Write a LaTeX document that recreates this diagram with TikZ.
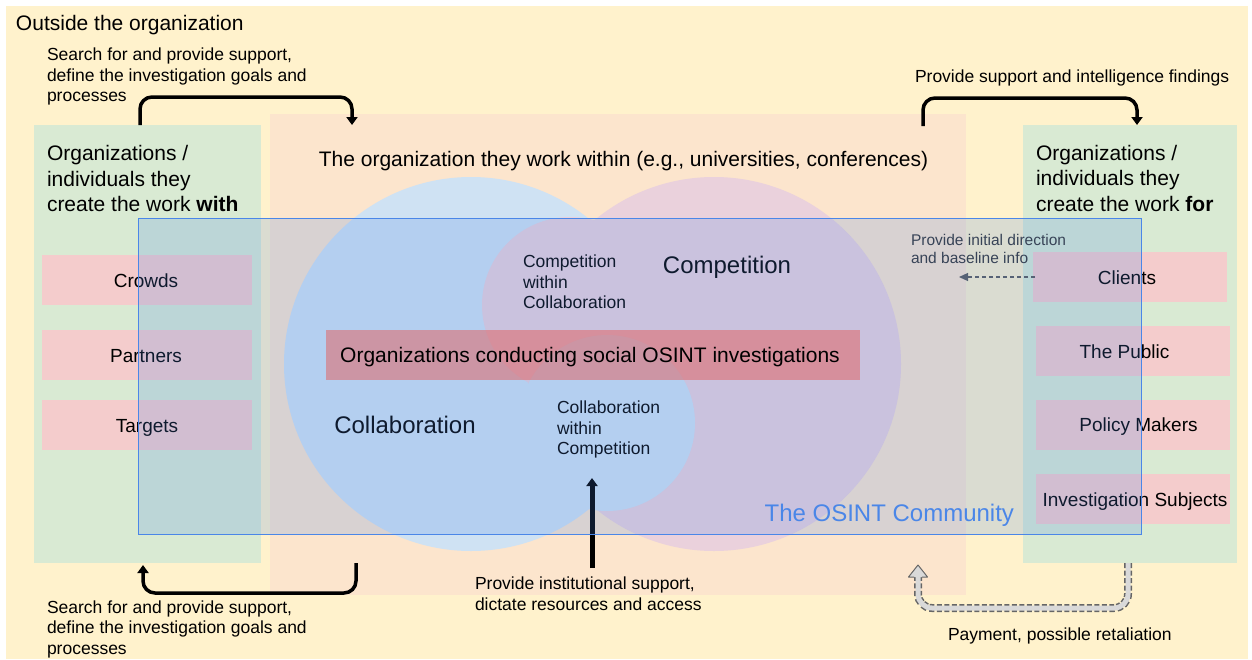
\documentclass[tikz,border=0pt]{standalone}
\usepackage{fontspec}
\setmainfont{Liberation Sans}
\usetikzlibrary{arrows.meta,calc}

\definecolor{bgyellow}{HTML}{FFF2CC}
\definecolor{boxgreen}{HTML}{D9EAD3}
\definecolor{boxpink}{HTML}{F4CCCC}
\definecolor{boxorange}{HTML}{FCE5CD}
\definecolor{circblue}{HTML}{CFE2F3}
\definecolor{circpink}{HTML}{EAD1DC}
\definecolor{barred}{HTML}{E06666}
\definecolor{osint}{HTML}{4A86E8}
\definecolor{dashgrey}{HTML}{595959}
\definecolor{hollowfill}{HTML}{D9D9D9}
\definecolor{hollowline}{HTML}{666666}
\definecolor{softtext}{HTML}{333333}

\begin{document}
\begin{tikzpicture}[x=1pt,y=-1pt,
  panel/.style={rectangle, inner sep=0pt, outer sep=0pt, anchor=north west},
  disc/.style={circle, inner sep=0pt, outer sep=0pt},
  txt/.style={inner sep=0pt, outer sep=0pt},
  ftitle/.style={txt, font=\fontsize{21}{25.5}\selectfont},
  fbig/.style={txt, font=\fontsize{24}{28}\selectfont},
  fitem/.style={txt, font=\fontsize{19}{22}\selectfont},
  fnote/.style={txt, font=\fontsize{17.5}{20.5}\selectfont},
  fsmall/.style={txt, font=\fontsize{15.5}{18.5}\selectfont},
  blackarrow/.style={draw=black, line width=3.5pt, rounded corners=12pt,
    -{Triangle[width=11pt,length=8pt]}},
  instarrow/.style={draw=black, line width=5pt,
    -{Triangle[width=11pt,length=8pt]}},
  hintarrow/.style={draw=dashgrey, line width=1.3pt, dash pattern=on 4pt off 3pt,
    -{Triangle[width=8pt,length=9pt]}},
]
% page and outer area
\fill[white] (0,0) rectangle (1252,659);
\path[use as bounding box] (0,0) rectangle (1252,659);
\fill[bgyellow] (6,6) rectangle (1248,659);

% main panels
\node[panel, fill=boxgreen, minimum width=227pt, minimum height=438pt] (withbox) at (34,125) {};
\node[panel, fill=boxgreen, minimum width=214pt, minimum height=438pt] (forbox) at (1023,125) {};
\node[panel, fill=boxorange, minimum width=696pt, minimum height=481pt] (orgbox) at (270,114) {};

% entities on the left
\node[panel, fill=boxpink, minimum width=210pt, minimum height=50pt] (crowdsbox) at (42,255) {};
\node[panel, fill=boxpink, minimum width=210pt, minimum height=50pt] (partnersbox) at (42,330) {};
\node[panel, fill=boxpink, minimum width=210pt, minimum height=50pt] (targetsbox) at (42,400) {};
% entities on the right
\node[panel, fill=boxpink, minimum width=194pt, minimum height=50pt] (clientsbox) at (1033,252) {};
\node[panel, fill=boxpink, minimum width=194pt, minimum height=50pt] (publicbox) at (1036,326) {};
\node[panel, fill=boxpink, minimum width=194pt, minimum height=50pt] (policybox) at (1036,400) {};
\node[panel, fill=boxpink, minimum width=194pt, minimum height=50pt] (subjectsbox) at (1036,474) {};

% collaboration / competition circles
\node[disc, fill=circblue, minimum size=374pt] (collab) at (471,364) {};
\node[disc, fill=circpink, minimum size=374pt] (compet) at (714,364) {};
\node[disc, fill=circpink, minimum size=176pt] (compwithin) at (570,305) {};
\node[disc, fill=circblue, minimum size=176pt] (collabwithin) at (607,423) {};

% texts
\node[ftitle, anchor=base west] (outside) at (16,30) {Outside the organization};
\node[fnote, anchor=north west, align=left] (withnote) at (47,47.9)
  {Search for and provide support,\\define the investigation goals and\\processes};
\node[ftitle, anchor=north west, align=left] (withtitle) at (47,145.6)
  {Organizations /\\individuals they\\create the work \textbf{with}};
\node[ftitle, anchor=north west, align=left] (fortitle) at (1036,144.8)
  {Organizations /\\individuals they\\create the work \textbf{for}};
\node[ftitle, anchor=base] (orgtitle) at (623.5,166.5)
  {The organization they work within (e.g., universities, conferences)};
\node[fnote, anchor=base west] (supportnote) at (915,82.3) {Provide support and intelligence findings};

\node[fitem, anchor=base] (crowds) at (146,287) {Crowds};
\node[fitem, anchor=base] (partners) at (146,362) {Partners};
\node[fitem, anchor=base] (targets) at (147,432) {Targets};
\node[fitem, anchor=base] (clients) at (1127,284) {Clients};
\node[fitem, anchor=base] (public) at (1124.5,358) {The Public};
\node[fitem, anchor=base] (policy) at (1138.5,431) {Policy Makers};
\node[fitem, anchor=base] (subjects) at (1135,506) {Investigation Subjects};

\node[fbig, anchor=base] (competlabel) at (727,273.6) {Competition};
\node[fbig, anchor=base] (collablabel) at (405,433.6) {Collaboration};
\node[fnote, anchor=north west, align=left] (compwithinlabel) at (523,254.9)
  {Competition\\within\\Collaboration};
\node[fnote, anchor=north west, align=left] (collabwithinlabel) at (557,400.9)
  {Collaboration\\within\\Competition};

\node[fsmall, text=softtext, anchor=north west, align=left] (dirnote) at (911,233.8)
  {Provide initial direction\\and baseline info};
\node[fnote, anchor=north west, align=left] (instnote) at (475,576.9)
  {Provide institutional support,\\dictate resources and access};
\node[fnote, anchor=north west, align=left] (withnotelow) at (47,600.4)
  {Search for and provide support,\\define the investigation goals and\\processes};
\node[fnote, anchor=base west] (paynote) at (948,640.7) {Payment, possible retaliation};

% connectors
\draw[blackarrow] ([xshift=106pt]withbox.north west) -- ++(0,-28)
  -| ([xshift=82pt,yshift=-11pt]orgbox.north west);
\draw[blackarrow] ([xshift=-43pt,yshift=-12pt]orgbox.north east) -- ++(0,-28)
  -| ([xshift=114pt]forbox.north west);
\draw[blackarrow] ([xshift=86pt,yshift=32pt]orgbox.south west) -- ++(0,30)
  -| ([xshift=109pt,yshift=-2pt]withbox.south west);
\coordinate (insttip) at (592,478);
\draw[instarrow] ([xshift=322pt,yshift=27pt]orgbox.south west) -- (insttip);
\coordinate (dirtip) at (959,277);
\draw[hintarrow] ([xshift=2pt]clientsbox.west) -- (dirtip);

% payment / retaliation: hollow dashed arrow
\coordinate (payfrom) at ([xshift=105pt]forbox.south west);
\coordinate (payto) at ([xshift=-48pt,yshift=30pt]orgbox.south east);
\draw[hollowline, line width=8pt, dash pattern=on 5pt off 2.5pt, rounded corners=14pt]
  (payfrom) -- ++(0,45) -| ([yshift=-12pt]payto);
\draw[hollowfill, line width=5pt, rounded corners=14pt]
  (payfrom) -- ++(0,45) -| ([yshift=-12pt]payto);
\fill[hollowfill] (payto) -- ++(9.5,12) -- ++(-19,0) -- cycle;
\draw[hollowline, line width=1pt, line join=round]
  ([xshift=-4pt,yshift=-12pt]payto) -- ++(-5.5,0) -- (payto) -- ++(9.5,12) -- ++(-5.5,0);

% the OSINT community overlay
\node[panel, fill=osint, fill opacity=0.2, draw=osint, line width=1pt,
  minimum width=1003pt, minimum height=316pt] (community) at (138,218) {};
\node[fbig, text=osint, anchor=base east] (communitylabel) at (1014,521.6) {The OSINT Community};

% the investigating organizations, on top
\node[rectangle, inner sep=0pt, fill=barred, fill opacity=0.55, minimum width=534pt, minimum height=50pt] (osintorgs) at (593,355) {};
\node[ftitle, anchor=base] (osintorgslabel) at (590,362.5)
  {Organizations conducting social OSINT investigations};
\end{tikzpicture}
\end{document}
